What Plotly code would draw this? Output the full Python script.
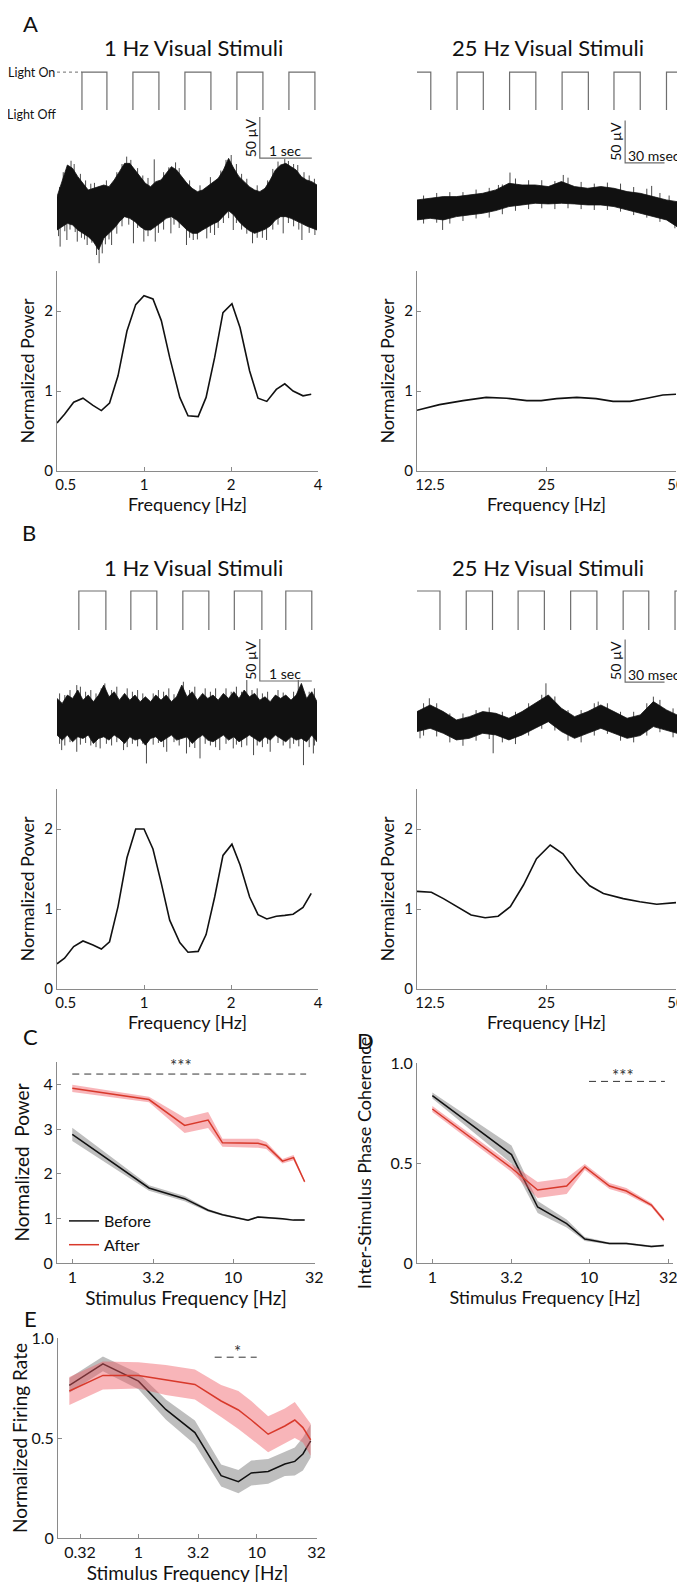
import numpy as np
import plotly.graph_objects as go

W, H = 685, 1582
PAGE_PAD = 8          # the page body margin the figure sits in
FONT = "Lato"

# ---------------- stimulus waveforms (1 = light on, 0 = light off) ----------------
STIM_A1_T = [0, 0.48, 0.96, 1.46, 1.96, 2.46, 2.96, 3.46, 3.96, 4.46, 4.96, 5.0]      # s
STIM_A1_V = [0, 1, 0, 1, 0, 1, 0, 1, 0, 1, 0, 0]
STIM_A2_T = [0, 10.5, 30.5, 50.5, 70.5, 90.5, 110.5, 130.5, 150, 170, 190, 198]     # ms
STIM_A2_V = [1, 0, 1, 0, 1, 0, 1, 0, 1, 0, 1, 1]
STIM_B1_T = [0, 0.42, 0.94, 1.42, 1.92, 2.42, 2.92, 3.41, 3.94, 4.4, 4.9, 5.0]
STIM_B1_V = [0, 1, 0, 1, 0, 1, 0, 1, 0, 1, 0, 0]
STIM_B2_T = [0, 17.5, 37.5, 57.5, 77, 97, 117, 137, 157, 176.5, 196.5, 198]
STIM_B2_V = [1, 0, 1, 0, 1, 0, 1, 0, 1, 0, 1, 1]

# ---------------- LFP traces: envelope of the raw trace (uV) + single excursions ----------------
T_SEC = [0.0, 0.1, 0.2, 0.3, 0.4, 0.5, 0.6, 0.7, 0.8, 0.9, 1.0, 1.1, 1.2, 1.3, 1.4, 1.5, 1.6,
         1.7, 1.8, 1.9, 2.0, 2.1, 2.2, 2.3, 2.4, 2.5, 2.6, 2.7, 2.8, 2.9, 3.0, 3.1, 3.2, 3.3,
         3.4, 3.5, 3.6, 3.7, 3.8, 3.9, 4.0, 4.1, 4.2, 4.3, 4.4, 4.5, 4.6, 4.7, 4.8, 4.9, 5.0]
T_MS = [0, 10, 20, 30, 40, 50, 60, 70, 80, 90, 100, 110, 120, 130, 140, 150, 160, 170, 180,
        190, 198]

A1_UP = [10.2, 28.5, 48.8, 44.7, 34.6, 26.4, 18.3, 20.3, 22.4, 24.4, 22.4, 30.5, 40.7, 50.8,
         50.8, 42.7, 34.6, 26.4, 22.4, 28.5, 30.5, 38.6, 46.8, 42.7, 34.6, 26.4, 20.3, 16.3,
         18.3, 23.2, 27.2, 32.5, 42.7, 56.9, 44.7, 34.6, 28.5, 22.4, 18.3, 16.3, 20.3, 30.5,
         42.7, 48.8, 50.8, 46.8, 42.7, 34.6, 30.5, 28.5, 24.4]
A1_LO = [-30.5, -26.4, -22.4, -24.4, -30.5, -34.6, -38.6, -44.7, -54.9, -40.6, -34.6, -28.5,
         -20.3, -14.2, -16.3, -20.3, -26.4, -30.5, -30.5, -26.4, -21.5, -16.3, -14.2, -18.3,
         -24.4, -30.5, -34.6, -34.6, -30.5, -26.4, -23.2, -20.3, -14.2, -6.9, -12.2, -20.3,
         -26.4, -31.3, -34.6, -32.5, -29.7, -25.6, -18.3, -14.2, -14.2, -16.3, -19.1, -22.4,
         -25.6, -28.5, -30.5]
A1_SPIKE_T = [0.06, 0.19, 0.39, 0.58, 0.76, 0.81, 0.87, 1.05, 1.47, 1.67, 1.89, 2.19, 2.49,
              2.62, 2.88, 3.03, 3.39, 3.76, 4.03, 4.35, 4.71, 4.96, 0.27, 1.34, 1.87, 3.35,
              4.45, 4.63,
              0.05, 0.12, 0.33, 0.45, 0.55, 0.65, 0.72, 0.95, 1.15, 1.25, 1.42, 1.55, 1.65,
              1.75, 2.05, 2.15, 2.28, 2.35, 2.55, 2.75, 2.95, 3.15, 3.25, 3.45, 3.55, 3.65,
              3.85, 4.05, 4.15, 4.25, 4.38, 4.55, 4.75, 4.85, 4.95,
              0.03, 0.15, 0.25, 0.35, 0.47, 0.53, 0.67, 0.93, 1.0, 1.15, 1.25, 1.38, 1.55,
              1.75, 1.95, 2.05, 2.25, 2.35, 2.55, 2.7, 2.95, 3.1, 3.2, 3.3, 3.45, 3.55, 3.65,
              3.85, 3.95, 4.15, 4.25, 4.45, 4.55, 4.65, 4.85]
A1_SPIKE_V = [-50.8, -42.7, -44.7, -48.8, -61, -71, -59, -48.8, -46.7, -44.7, -44.7, -34.6,
              -48.8, -42.7, -40.7, -36.6, -30.5, -46.7, -42.7, -34.6, -42.7, -36.6, 54, 59,
              55.7, 61, 53.7, 48.8,
              22, 40, 50, 38, 30, 26, 27, 30, 40, 50, 55, 45, 36, 33, 40, 46, 52, 45, 30, 24,
              34, 42, 55, 50, 38, 32, 24, 30, 44, 53, 56, 50, 40, 36, 32,
              -38, -32, -30, -33, -40, -42, -46, -48, -42, -35, -26, -24, -28, -38, -34, -30,
              -24, -28, -40, -42, -34, -28, -22, -16, -22, -30, -35, -40, -40, -30, -24, -22,
              -26, -30, -34]

A2_UP = [11.8, 13.8, 15.7, 15.7, 17.7, 19.6, 23.6, 31.4, 29.4, 29.4, 27.5, 33.4, 27.5, 25.5,
         27.5, 25.5, 21.6, 19.6, 15.7, 11.8, 9.8]
A2_LO = [-11.7, -9.8, -11.7, -7.8, -5.8, -3.9, -0.7, 4.0, 5.9, 7.9, 7.1, 7.9, 7.1, 5.9, 5.9,
         4.0, 0.0, -3.9, -7.8, -11.7, -19.6]
A2_SPIKE_T = [19.5, 62, 70.8, 111.4, 145, 178.7, 196.4,
              5, 15, 25, 35, 45, 55, 65, 75, 85, 95, 105, 115, 125, 135, 155, 165, 175, 185, 192,
              5, 15, 25, 35, 45, 55, 65, 75, 85, 95, 105, 115, 125, 135, 145, 155, 165, 175, 185]
A2_SPIKE_V = [-23.5, 29.4, 44, 41.2, 32.2, 28.3, -21.5,
              17, 20, 21, 21, 24, 26, 30, 37, 35, 35, 34, 38, 33, 31, 31, 27, 25, 20, 17,
              -16, -15, -16, -13, -10, -9, -5, -1, 1, 2, 1, 2, 1, 0, 0, -2, -6, -9, -14]

B1_UP = [28.0, 22.1, 32.0, 28.0, 38.0, 26.0, 32.0, 24.1, 32.0, 43.9, 30.0, 36.0, 26.0, 34.0,
         26.0, 32.0, 24.1, 30.0, 24.1, 32.0, 26.0, 32.0, 24.1, 30.0, 43.9, 30.0, 36.0, 26.0,
         34.0, 28.0, 32.0, 26.0, 34.0, 28.0, 36.0, 28.0, 38.0, 30.0, 34.0, 26.0, 30.0, 24.1,
         32.0, 28.0, 32.0, 26.0, 32.0, 45.9, 28.0, 36.0, 24.1]
B1_LO = [-15.6, -21.6, -15.6, -23.6, -17.6, -19.6, -15.6, -25.6, -19.6, -17.6, -21.6, -15.6,
         -19.6, -25.6, -17.6, -21.6, -19.6, -27.6, -19.6, -17.6, -23.6, -19.6, -15.6, -21.6,
         -19.6, -17.6, -25.6, -19.6, -15.6, -21.6, -23.6, -19.6, -15.6, -21.6, -17.6, -23.6,
         -19.6, -15.6, -19.6, -23.6, -17.6, -21.6, -15.6, -19.6, -23.6, -17.6, -21.6, -19.6,
         -23.6, -15.6, -23.6]
B1_SPIKE_T = [0.09, 0.38, 0.83, 1.28, 1.72, 2.11, 2.49, 2.75, 3.13, 3.39, 3.78, 4.1, 4.48,
              4.74, 4.93, 0.38, 0.92, 2.43, 3.65, 4.64, 4.72,
              0.05, 0.15, 0.25, 0.45, 0.55, 0.65, 0.75, 0.85, 1.05, 1.15, 1.35, 1.45, 1.55,
              1.65, 1.85, 1.95, 2.05, 2.15, 2.25, 2.55, 2.65, 2.85, 2.95, 3.05, 3.25, 3.35,
              3.45, 3.55, 3.75, 3.85, 3.95, 4.05, 4.25, 4.35, 4.55, 4.65, 4.85, 4.95,
              0.05, 0.15, 0.25, 0.45, 0.55, 0.65, 0.75, 0.95, 1.05, 1.15, 1.35, 1.45, 1.55,
              1.65, 1.85, 1.95, 2.05, 2.25, 2.35, 2.55, 2.65, 2.85, 2.95, 3.05, 3.25, 3.45,
              3.55, 3.65, 3.85, 3.95, 4.05, 4.25, 4.35, 4.55, 4.65, 4.85, 4.95]
B1_SPIKE_V = [-33.5, -35.5, -31.5, -33.5, -49.4, -35.5, -37.5, -43.4, -33.5, -31.5, -39.5,
              -35.5, -31.5, -51.4, -37.5, 43.9, 45.9, 47.9, 49.9, 49.9, 42,
              34, 32, 38, 42, 36, 38, 34, 40, 38, 42, 40, 36, 38, 34, 34, 38, 36, 40, 33, 38,
              42, 40, 36, 40, 40, 36, 42, 36, 38, 40, 34, 36, 38, 35, 36, 38, 36, 40,
              -26, -28, -24, -27, -25, -28, -30, -26, -28, -24, -30, -26, -29, -26, -27, -25,
              -30, -24, -28, -30, -31, -26, -28, -30, -26, -27, -30, -28, -28, -30, -26, -25,
              -28, -26, -29, -30, -28]

B2_UP = [12.2, 20.0, 12.2, 2.4, 6.3, 12.2, 10.2, 4.4, 12.2, 22.0, 31.8, 16.1, 6.3, 12.2,
         20.0, 12.2, 4.4, 8.3, 24.0, 14.2, 8.3]
B2_LO = [-11.3, -7.4, -13.3, -21.1, -19.2, -13.3, -15.2, -21.1, -15.2, -7.4, 0.4, -11.3,
         -19.2, -13.3, -7.4, -13.3, -19.2, -16.0, -5.4, -9.4, -13.3]
B2_SPIKE_T = [2.3, 9.4, 58, 98.2, 138, 180,
              5, 15, 25, 35, 45, 55, 65, 75, 85, 95, 105, 115, 125, 135, 145, 155, 165, 175,
              185, 195,
              5, 15, 25, 35, 45, 55, 65, 75, 85, 95, 105, 115, 125, 135, 145, 155, 165, 175,
              185, 195]
B2_SPIKE_V = [-19.2, 27.9, -36.8, 45.5, 24, 29.8,
              22, 22, 10, 10, 14, 17, 12, 12, 22, 32, 30, 14, 14, 22, 22, 12, 12, 22, 26, 16,
              -16, -17, -24, -28, -22, -20, -24, -26, -16, -8, -10, -22, -24, -16, -14, -22,
              -24, -16, -12, -18]

# ---------------- power spectra ----------------
A1_FREQ = [0.5, 0.531, 0.571, 0.615, 0.666, 0.712, 0.76, 0.813, 0.873, 0.936, 1.0, 1.074,
           1.148, 1.227, 1.33, 1.42, 1.54, 1.64, 1.756, 1.876, 2.015, 2.15, 2.32, 2.48,
           2.66, 2.87, 3.07, 3.28, 3.55, 3.79]
A1_POW = [0.60, 0.71, 0.86, 0.91, 0.82, 0.755, 0.85, 1.19, 1.75, 2.08, 2.19, 2.15, 1.88,
          1.42, 0.92, 0.69, 0.68, 0.92, 1.42, 1.98, 2.09, 1.79, 1.25, 0.91, 0.87, 1.02, 1.09,
          1.0, 0.94, 0.96]
B1_FREQ = A1_FREQ
B1_POW = [0.315, 0.385, 0.53, 0.60, 0.55, 0.50, 0.59, 1.03, 1.64, 2.0, 2.0, 1.75, 1.32, 0.86,
          0.58, 0.46, 0.47, 0.68, 1.15, 1.67, 1.81, 1.55, 1.15, 0.93, 0.875, 0.91, 0.92, 0.935,
          1.02, 1.195]
A2_FREQ = [12.5, 14.1, 16.0, 18.1, 20.2, 22.5, 24.3, 26.4, 29.4, 32.6, 35.7, 39.1, 42.8, 46.6, 50]
A2_POW = [0.76, 0.83, 0.88, 0.92, 0.91, 0.88, 0.88, 0.905, 0.92, 0.905, 0.87, 0.87, 0.91, 0.95,
          0.96]
B2_FREQ = [12.5, 13.5, 14.4, 15.6, 16.7, 18.0, 19.3, 20.6, 22.1, 23.7, 25.5, 27.3, 29.4, 31.5,
           33.9, 37.7, 41.2, 45.1, 50]
B2_POW = [1.22, 1.21, 1.13, 1.02, 0.925, 0.89, 0.91, 1.03, 1.30, 1.63, 1.80, 1.69, 1.46, 1.29,
          1.195, 1.13, 1.09, 1.06, 1.08]
LOW_TICKS = [0.5, 1, 2, 4]
LOW_TICK_TEXT = ["\u2007\u20070.5", "1", "2", "4"]
HIGH_TICKS = [12.5, 25, 50]
HIGH_TICK_TEXT = ["\u2007\u2007\u200712.5", "25", "50"]

# ---------------- population summaries (mean +- sem) ----------------
C_FREQ = [1, 3, 5, 7, 8.6, 12.4, 14.3, 16.1, 20.3, 23.8, 27.9]
C_BEFORE = [2.88, 1.68, 1.44, 1.18, 1.08, 0.96, 1.03, 1.02, 0.99, 0.96, 0.96]
C_BEFORE_SEM = [0.15, 0.06, 0.06, 0.03, 0.02, 0.02, 0.02, 0.02, 0.02, 0.02, 0.02]
C_AFTER = [3.91, 3.66, 3.08, 3.2, 2.69, 2.69, 2.68, 2.63, 2.28, 2.36, 1.82]
C_AFTER_SEM = [0.08, 0.06, 0.17, 0.18, 0.09, 0.1, 0.1, 0.08, 0.05, 0.06, 0.03]
C_SIG = ([1, 28.5], 4.23, "***")

D_FREQ = [1, 3.2, 4.7, 7.2, 9.4, 13.5, 17.3, 25, 30]
D_BEFORE = [0.837, 0.542, 0.28, 0.197, 0.12, 0.097, 0.097, 0.083, 0.088]
D_BEFORE_SEM = [0.015, 0.045, 0.03, 0.02, 0.01, 0.005, 0.005, 0.005, 0.005]
D_AFTER = [0.77, 0.475, 0.365, 0.385, 0.48, 0.385, 0.36, 0.29, 0.215]
D_AFTER_SEM = [0.015, 0.02, 0.04, 0.04, 0.015, 0.015, 0.015, 0.01, 0.01]
D_SIG = ([10, 30.5], 0.908, "***")

E_FREQ = [0.26, 0.5, 1.0, 1.7, 3.0, 5.0, 7.0, 9.0, 12.5, 17.3, 21, 24.6, 28.6]
E_BEFORE = [0.763, 0.871, 0.784, 0.643, 0.527, 0.312, 0.282, 0.325, 0.333, 0.37, 0.383,
            0.42, 0.486]
E_BEFORE_SEM = [0.037, 0.037, 0.04, 0.05, 0.06, 0.055, 0.058, 0.062, 0.062, 0.06, 0.07,
                0.083, 0.083]
E_AFTER = [0.735, 0.813, 0.813, 0.79, 0.768, 0.685, 0.64, 0.59, 0.519, 0.56, 0.59, 0.552,
           0.491]
E_AFTER_SEM = [0.07, 0.07, 0.066, 0.075, 0.075, 0.08, 0.095, 0.095, 0.09, 0.087, 0.09,
               0.075, 0.08]
E_SIG = ([4.41, 10], 0.904, "*")

# ---------------- styling ----------------
AX = "#8a8a8a"
STIM_C = "#6e6e6e"
INK = "#111111"
RED = "#d8392b"
RED_FILL = "rgba(240,90,100,0.45)"
GRAY_FILL = "rgba(110,110,110,0.45)"


def xd(a, b):
    """page-pixel span -> paper domain"""
    return [(a - PAGE_PAD) / W, (b - PAGE_PAD) / W]


def yd(top, bot):
    return [1 - (bot - PAGE_PAD) / H, 1 - (top - PAGE_PAD) / H]


fig = go.Figure()
layout_axes = {}


def ax_names(n):
    s = "" if n == 1 else str(n)
    return "x" + s, "y" + s, "xaxis" + s, "yaxis" + s


def hidden_axes(n, xdom, xr, ydom, yr):
    xn, yn, xk, yk = ax_names(n)
    layout_axes[xk] = dict(domain=xdom, range=xr, visible=False, anchor=yn, fixedrange=True)
    layout_axes[yk] = dict(domain=ydom, range=yr, visible=False, anchor=xn, fixedrange=True)
    return xn, yn


def framed_axes(n, xdom, xr, xvals, xtext, xtitle, ydom, yr, yvals, ytext, ytitle,
                tick_size, title_size, x_standoff, y_standoff):
    xn, yn, xk, yk = ax_names(n)
    common = dict(showline=True, linecolor=AX, linewidth=1, ticks="inside", ticklen=4,
                  tickwidth=1, tickcolor=AX, showgrid=False, zeroline=False,
                  tickfont=dict(size=tick_size, color=INK), fixedrange=True)
    layout_axes[xk] = dict(domain=xdom, range=xr, type="log", tickvals=xvals, ticktext=xtext,
                           anchor=yn,
                           title=dict(text=xtitle, font=dict(size=title_size, color=INK),
                                      standoff=x_standoff), **common)
    layout_axes[yk] = dict(domain=ydom, range=yr, tickvals=yvals, ticktext=ytext, anchor=xn,
                           title=dict(text=ytitle, font=dict(size=title_size, color=INK),
                                      standoff=y_standoff), **common)
    return xn, yn


def add_stim(n, xdom, ydom, t, v, tmax):
    xn, yn = hidden_axes(n, xdom, [0, tmax], ydom, [-0.19, 1.19])
    fig.add_trace(go.Scatter(x=t, y=v, mode="lines",
                             line=dict(color=STIM_C, width=1.2, shape="hv"),
                             xaxis=xn, yaxis=yn, showlegend=False, hoverinfo="skip"))
    return xn, yn


def add_lfp(n, xdom, ydom, yr, t, up, lo, spike_t, spike_v, base, tmax):
    xn, yn = hidden_axes(n, xdom, [0, tmax], ydom, yr)
    sx, sy = [], []
    for st, sv in zip(spike_t, spike_v):
        sx += [st, st, None]
        sy += [base, sv, None]
    fig.add_trace(go.Scatter(x=sx, y=sy, mode="lines", line=dict(color="#4a4a4a", width=1),
                             xaxis=xn, yaxis=yn, showlegend=False, hoverinfo="skip"))
    fig.add_trace(go.Scatter(x=t + t[::-1], y=up + lo[::-1], mode="lines", fill="toself",
                             fillcolor=INK, line=dict(color=INK, width=0.8),
                             xaxis=xn, yaxis=yn, showlegend=False, hoverinfo="skip"))
    return xn, yn


def add_scalebar(xn, yn, t0, v0, dt, dv, tlabel, t_label_x, t_anchor):
    fig.add_trace(go.Scatter(x=[t0, t0, t0 + dt], y=[v0 + dv, v0, v0], mode="lines",
                             line=dict(color=STIM_C, width=1.2), xaxis=xn, yaxis=yn,
                             showlegend=False, hoverinfo="skip"))
    fig.add_annotation(x=t0, y=v0 + dv / 2, xref=xn, yref=yn, text="50 µV", textangle=-90,
                       xshift=-9, showarrow=False, font=dict(size=14, color=INK))
    fig.add_annotation(x=t_label_x, y=v0, xref=xn, yref=yn, text=tlabel, xanchor=t_anchor,
                       yanchor="bottom", yshift=-3, showarrow=False,
                       font=dict(size=14, color=INK))


def add_spectrum(n, xdom, ydom, freq, power, flo, fhi, xvals, xtext):
    xn, yn = framed_axes(n, xdom, [np.log10(flo), np.log10(fhi)], xvals, xtext,
                         "Frequency [Hz]", ydom, [0, 2.5], [0, 1, 2], ["0", "1", "2"],
                         "Normalized Power", 15, 18, 1, 4)
    fig.add_trace(go.Scatter(x=freq, y=power, mode="lines", line=dict(color=INK, width=1.6),
                             xaxis=xn, yaxis=yn, showlegend=False, hoverinfo="skip"))


def add_band(xn, yn, x, m, s, fill, color, name, legend):
    lo = [a - b for a, b in zip(m, s)]
    hi = [a + b for a, b in zip(m, s)]
    fig.add_trace(go.Scatter(x=x + x[::-1], y=hi + lo[::-1], mode="lines", fill="toself",
                             fillcolor=fill, line=dict(width=0), xaxis=xn, yaxis=yn,
                             showlegend=False, hoverinfo="skip"))
    fig.add_trace(go.Scatter(x=x, y=m, mode="lines", line=dict(color=color, width=1.5),
                             name=name, xaxis=xn, yaxis=yn, showlegend=legend))


def add_sig(xn, yn, sig, star_x, star_y):
    xs, y, label = sig
    fig.add_trace(go.Scatter(x=xs, y=[y, y], mode="lines",
                             line=dict(color="#333333", width=1, dash="7px,5px"),
                             xaxis=xn, yaxis=yn, showlegend=False, hoverinfo="skip"))
    fig.add_annotation(x=np.log10(star_x), y=star_y, xref=xn, yref=yn, text=label,
                       showarrow=False, font=dict(size=17, color="#333333"))


# ---------------- panel A ----------------
xa, ya = add_stim(1, xd(57, 317), yd(64, 123), STIM_A1_T, STIM_A1_V, 5.0)
fig.add_annotation(x=0, y=1, xref=xa, yref=ya, text="Light On", xanchor="right",
                   showarrow=False, font=dict(size=12.5, color=INK))
fig.add_annotation(x=0, y=0, xref=xa, yref=ya, text="Light Off", xanchor="right", xshift=1,
                   showarrow=False, font=dict(size=12.5, color=INK))
fig.add_trace(go.Scatter(x=[0, STIM_A1_T[1]], y=[1, 1], mode="lines",
                         line=dict(color=STIM_C, width=1, dash="3px,3px"), xaxis=xa, yaxis=ya,
                         showlegend=False, hoverinfo="skip"))
xt, yt = add_lfp(2, xd(57, 317), yd(110, 275), [-85.4, 115.9], T_SEC, A1_UP, A1_LO,
                 A1_SPIKE_T, A1_SPIKE_V, 0, 5.0)
add_scalebar(xt, yt, 3.9, 57.3, 1.0, 50, "1 sec", 4.38, "center")

add_stim(3, xd(417, 677), yd(64, 123), STIM_A2_T, STIM_A2_V, 198)
xt, yt = add_lfp(4, xd(417, 677), yd(110, 275), [-76.5, 117.6], T_MS, A2_UP, A2_LO,
                 A2_SPIKE_T, A2_SPIKE_V, 9, 198)
add_scalebar(xt, yt, 158.5, 55.3, 30, 50, "30 msec", 159.5, "left")

add_spectrum(5, xd(57, 318), yd(271, 471), A1_FREQ, A1_POW, 0.5, 4, LOW_TICKS, LOW_TICK_TEXT)
add_spectrum(6, xd(417, 676), yd(271, 471), A2_FREQ, A2_POW, 12.5, 50, HIGH_TICKS,
             HIGH_TICK_TEXT)

# ---------------- panel B ----------------
add_stim(7, xd(57, 317), yd(583, 641), STIM_B1_T, STIM_B1_V, 5.0)
xt, yt = add_lfp(8, xd(57, 317), yd(630, 790), [-81, 109.5], T_SEC, B1_UP, B1_LO,
                 B1_SPIKE_T, B1_SPIKE_V, 0, 5.0)
add_scalebar(xt, yt, 3.9, 48.8, 1.0, 50, "1 sec", 4.38, "center")

add_stim(9, xd(417, 677), yd(583, 641), STIM_B2_T, STIM_B2_V, 198)
xt, yt = add_lfp(10, xd(417, 677), yd(630, 790), [-80, 108.2], T_MS, B2_UP, B2_LO,
                 B2_SPIKE_T, B2_SPIKE_V, 1.5, 198)
add_scalebar(xt, yt, 158.5, 47.0, 30, 50, "30 msec", 159.5, "left")

add_spectrum(11, xd(57, 318), yd(789, 989), B1_FREQ, B1_POW, 0.5, 4, LOW_TICKS, LOW_TICK_TEXT)
add_spectrum(12, xd(417, 676), yd(789, 989), B2_FREQ, B2_POW, 12.5, 50, HIGH_TICKS,
             HIGH_TICK_TEXT)

# ---------------- panel C ----------------
xc, yc = framed_axes(13, xd(57, 315), [-0.095, 1.51], [1, 3.2, 10, 32],
                     ["1", "3.2", "10", "32"], "Stimulus Frequency [Hz]", yd(1062, 1263),
                     [0, 4.5], [0, 1, 2, 3, 4], ["0", "1", "2", "3", "4"],
                     "Normalized  Power", 16, 19, 0, 8)
add_band(xc, yc, C_FREQ, C_BEFORE, C_BEFORE_SEM, GRAY_FILL, INK, "Before", True)
add_band(xc, yc, C_FREQ, C_AFTER, C_AFTER_SEM, RED_FILL, RED, "After", True)
add_sig(xc, yc, C_SIG, 4.72, 4.42)

# ---------------- panel D ----------------
xdd, ydd = framed_axes(14, xd(417, 673), [-0.098, 1.536], [1, 3.2, 10, 32],
                       ["1", "3.2", "10", "32"], "Stimulus Frequency [Hz]", yd(1063, 1263),
                       [0, 1], [0, 0.5, 1], ["0", "0.5", "1.0"],
                       "Inter-Stimulus Phase Coherence", 16, 18, 0, 14)
add_band(xdd, ydd, D_FREQ, D_BEFORE, D_BEFORE_SEM, GRAY_FILL, INK, "Before", False)
add_band(xdd, ydd, D_FREQ, D_AFTER, D_AFTER_SEM, RED_FILL, RED, "After", False)
add_sig(xdd, ydd, D_SIG, 16.5, 0.94)

# ---------------- panel E ----------------
xe, ye = framed_axes(15, xd(58, 317), [-0.681, 1.51], [0.32, 1, 3.2, 10, 32],
                     ["0.32", "1", "3.2", "10", "32"], "Stimulus Frequency [Hz]",
                     yd(1338, 1538), [0, 1], [0, 0.5, 1], ["0", "0.5", "1.0"],
                     "Normalized Firing Rate", 16, 19, 0, 0)
add_band(xe, ye, E_FREQ, E_BEFORE, E_BEFORE_SEM, GRAY_FILL, INK, "Before", False)
add_band(xe, ye, E_FREQ, E_AFTER, E_AFTER_SEM, RED_FILL, RED, "After", False)
add_sig(xe, ye, E_SIG, 6.9, 0.935)

# ---------------- free text: panel letters and stimulus titles ----------------
# panel "A" hangs from the very top of the figure so it is never clipped
fig.add_annotation(x=(30 - PAGE_PAD) / W, y=1, xref="paper", yref="paper", text="A",
                   showarrow=False, xanchor="center", yanchor="top",
                   font=dict(size=22, color=INK))
TEXTS = [("B", 29, 533, 22), ("C", 30, 1036, 22), ("D", 365, 1040, 22),
         ("E", 30, 1318, 22),
         ("1 Hz Visual Stimuli", 193, 48, 22), ("25 Hz Visual Stimuli", 548, 48, 22),
         ("1 Hz Visual Stimuli", 193, 567, 22), ("25 Hz Visual Stimuli", 548, 567, 22)]
for text, px, py, size in TEXTS:
    fig.add_annotation(x=(px - PAGE_PAD) / W, y=1 - (py - PAGE_PAD) / H, xref="paper",
                       yref="paper", text=text, showarrow=False, xanchor="center",
                       yanchor="middle", font=dict(size=size, color=INK))

fig.update_layout(
    width=W, height=H,
    margin=dict(l=0, r=0, t=0, b=0, autoexpand=False),
    paper_bgcolor="white", plot_bgcolor="white",
    font=dict(family=FONT, color=INK),
    showlegend=True,
    legend=dict(x=(64 - PAGE_PAD) / W, y=1 - (1204 - PAGE_PAD) / H, xanchor="left",
                yanchor="top", bgcolor="rgba(0,0,0,0)", font=dict(size=16), itemwidth=30,
                tracegroupgap=0),
    **layout_axes,
)

fig.write_html("out.html")
